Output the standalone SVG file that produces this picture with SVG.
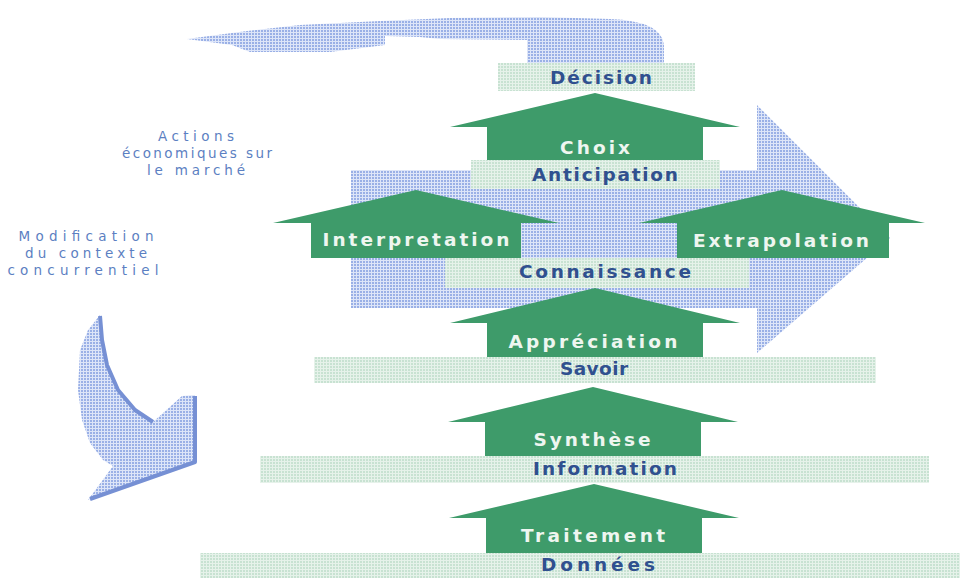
<svg xmlns="http://www.w3.org/2000/svg" width="978" height="578" viewBox="0 0 978 578">
<defs>
<pattern id="pBlue" width="3" height="3" patternUnits="userSpaceOnUse">
<rect width="3" height="3" fill="#dde5f8"/>
<rect width="2" height="2" fill="#9ab0e6"/>
</pattern>
<pattern id="pGreen" width="3" height="3" patternUnits="userSpaceOnUse">
<rect width="3" height="3" fill="#e6f2ea"/>
<rect width="2" height="2" fill="#c8e2d2"/>
</pattern>
<style>
.box{fill:url(#pGreen);}
.garrow{fill:#3e9b6a;}
.btxt{font-family:"DejaVu Sans","Liberation Sans",sans-serif;font-weight:bold;font-size:18.5px;fill:#30508f;text-anchor:middle;}
.wtxt{font-family:"DejaVu Sans","Liberation Sans",sans-serif;font-weight:bold;font-size:18.5px;fill:#eef6f0;text-anchor:middle;}
.ltxt{font-family:"DejaVu Sans","Liberation Sans",sans-serif;font-size:13.5px;fill:#5c7fc2;text-anchor:middle;}
.bluefill{fill:url(#pBlue);}
.edge{fill:none;stroke:#7690d4;stroke-width:4;stroke-linejoin:round;}
</style>
</defs>
<rect width="978" height="578" fill="#ffffff"/>

<g id="connectors">
<path id="loop-top" class="bluefill" d="M187,39 L247,31 L300,25 L380,21 L450,18 L540,17 L610,19 Q662,21 664,45 L664,63 L527,63 L527,40 L440,39 L420,37 L385,36 L385,45 L330,52 L250,52 L232,45 Z"/>
<path id="big-right" class="bluefill" d="M351,170 L757,170 L757,105 L890,238 L757,353 L757,308 L351,308 Z"/>
<g id="loop-left">
<path class="bluefill" d="M100,315 L88,330 L80,350 L78,390 L82,420 L90,443 L103,460 L113,466 L88,500 L195,462 L195,395 L182,396 L153,422 L135,410 L118,390 L107,365 L102,340 Z"/>
<path class="edge" d="M100,316 L102,340 L107,365 L118,390 L135,410 L153,422"/>
<path class="edge" d="M90,499 L195,462 L195,396"/>
</g>
</g>

<g id="txt-actions">
<text class="ltxt" x="196" y="141" textLength="76" lengthAdjust="spacing">Actions</text>
<text class="ltxt" x="197" y="158" textLength="150" lengthAdjust="spacing">économiques sur</text>
<text class="ltxt" x="196" y="175" textLength="98" lengthAdjust="spacing">le marché</text>
</g>
<g id="txt-modif">
<text class="ltxt" x="86" y="241" textLength="135" lengthAdjust="spacing">Modification</text>
<text class="ltxt" x="86" y="258" textLength="122" lengthAdjust="spacing">du contexte</text>
<text class="ltxt" x="83" y="275" textLength="151" lengthAdjust="spacing">concurrentiel</text>
</g>

<g id="decision">
<rect class="box" x="498" y="63" width="197" height="28"/>
<text class="btxt" x="601" y="84" textLength="102" lengthAdjust="spacing">Décision</text>
</g>
<g id="choix">
<polygon class="garrow" points="595,93 740,127 703,127 703,160 487,160 487,127 450,127"/>
<text class="wtxt" x="595" y="154" textLength="70" lengthAdjust="spacing">Choix</text>
</g>
<g id="anticipation">
<rect class="box" x="471" y="160" width="249" height="29"/>
<text class="btxt" x="605" y="181" textLength="146" lengthAdjust="spacing">Anticipation</text>
</g>
<g id="interpretation">
<polygon class="garrow" points="416,190 559,223 521,223 521,258 311,258 311,223 273,223"/>
<text class="wtxt" x="416" y="246" textLength="187" lengthAdjust="spacing">Interpretation</text>
</g>
<g id="extrapolation">
<polygon class="garrow" points="782,190 925,223 889,223 889,258 677,258 677,223 639,223"/>
<text class="wtxt" x="781" y="247" textLength="176" lengthAdjust="spacing">Extrapolation</text>
</g>
<g id="connaissance">
<rect class="box" x="445" y="258" width="304" height="30"/>
<text class="btxt" x="605" y="278" textLength="172" lengthAdjust="spacing">Connaissance</text>
</g>
<g id="appreciation">
<polygon class="garrow" points="595,288 740,323 703,323 703,357 487,357 487,323 450,323"/>
<text class="wtxt" x="593" y="348" textLength="169" lengthAdjust="spacing">Appréciation</text>
</g>
<g id="savoir">
<rect class="box" x="314" y="357" width="562" height="26"/>
<text class="btxt" x="594" y="375" textLength="68" lengthAdjust="spacing">Savoir</text>
</g>
<g id="synthese">
<polygon class="garrow" points="593,387 738,422 701,422 701,456 485,456 485,422 448,422"/>
<text class="wtxt" x="592" y="446" textLength="117" lengthAdjust="spacing">Synthèse</text>
</g>
<g id="information">
<rect class="box" x="260" y="456" width="669" height="27"/>
<text class="btxt" x="605" y="475" textLength="144" lengthAdjust="spacing">Information</text>
</g>
<g id="traitement">
<polygon class="garrow" points="594,484 739,518 702,518 702,553 486,553 486,518 449,518"/>
<text class="wtxt" x="593" y="542" textLength="144" lengthAdjust="spacing">Traitement</text>
</g>
<g id="donnees">
<rect class="box" x="200" y="553" width="760" height="25"/>
<text class="btxt" x="598" y="571" textLength="114" lengthAdjust="spacing">Données</text>
</g>
</svg>
